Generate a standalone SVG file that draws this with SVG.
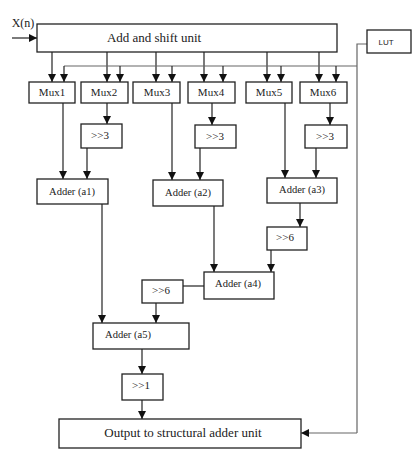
<svg xmlns="http://www.w3.org/2000/svg" width="418" height="455" viewBox="0 0 418 455">
<style>
rect{fill:#fff;stroke:#222;stroke-width:1.3}
text{font-family:"Liberation Serif","Times New Roman",serif;font-size:10.5px;fill:#222;text-anchor:middle}
.m{font-size:11px}
.s{font-size:11px}
.c line,.c polyline{stroke:#222;stroke-width:1.2;fill:none}
.c .g{stroke:#666}
</style>
<defs>
<marker id="ah" viewBox="0 0 10 10" refX="10" refY="5" markerWidth="8" markerHeight="8" markerUnits="userSpaceOnUse" orient="auto"><path d="M0,0L10,5L0,10z" fill="#111"/></marker>
</defs>
<rect width="418" height="455" style="stroke:none;fill:#fff"/>
<g class="c">
<line x1="12" y1="38" x2="37" y2="38" marker-end="url(#ah)"/>
<line x1="52" y1="52" x2="52" y2="82" marker-end="url(#ah)"/>
<line x1="107" y1="52" x2="107" y2="82" marker-end="url(#ah)"/>
<line x1="156" y1="52" x2="156" y2="82" marker-end="url(#ah)"/>
<line x1="204" y1="52" x2="204" y2="82" marker-end="url(#ah)"/>
<line x1="267" y1="52" x2="267" y2="82" marker-end="url(#ah)"/>
<line x1="319" y1="52" x2="319" y2="82" marker-end="url(#ah)"/>
<polyline class="g" points="367,44 357,44 357,433"/>
<line class="g" x1="64" y1="66" x2="357" y2="66"/>
<line x1="64" y1="66" x2="64" y2="82" marker-end="url(#ah)"/>
<line x1="120" y1="66" x2="120" y2="82" marker-end="url(#ah)"/>
<line x1="172" y1="66" x2="172" y2="82" marker-end="url(#ah)"/>
<line x1="223" y1="66" x2="223" y2="82" marker-end="url(#ah)"/>
<line x1="281" y1="66" x2="281" y2="82" marker-end="url(#ah)"/>
<line x1="336" y1="66" x2="336" y2="82" marker-end="url(#ah)"/>
<line class="g" x1="357" y1="433" x2="301" y2="433" marker-end="url(#ah)"/>
<line x1="63" y1="103" x2="63" y2="179" marker-end="url(#ah)"/>
<line x1="107" y1="103" x2="107" y2="124" marker-end="url(#ah)"/>
<line x1="87" y1="148" x2="87" y2="179" marker-end="url(#ah)"/>
<line x1="172" y1="103" x2="172" y2="180" marker-end="url(#ah)"/>
<line x1="212" y1="103" x2="212" y2="125" marker-end="url(#ah)"/>
<line x1="200" y1="148" x2="200" y2="180" marker-end="url(#ah)"/>
<line x1="285" y1="103" x2="285" y2="178" marker-end="url(#ah)"/>
<line x1="330" y1="103" x2="330" y2="125" marker-end="url(#ah)"/>
<line x1="316" y1="148" x2="316" y2="178" marker-end="url(#ah)"/>
<line x1="300" y1="203" x2="300" y2="227" marker-end="url(#ah)"/>
<line x1="214" y1="206" x2="214" y2="272" marker-end="url(#ah)"/>
<line x1="271" y1="250" x2="271" y2="272" marker-end="url(#ah)"/>
<line x1="204" y1="286" x2="183" y2="286"/>
<line x1="102" y1="204" x2="102" y2="323" marker-end="url(#ah)"/>
<line x1="156" y1="303" x2="156" y2="323" marker-end="url(#ah)"/>
<line x1="142" y1="349" x2="142" y2="374" marker-end="url(#ah)"/>
<line x1="142" y1="400" x2="142" y2="419" marker-end="url(#ah)"/>
</g>
<text x="23" y="27" style="font-size:12px">X(n)</text>
<g id="addshift"><rect x="37" y="24" width="300" height="28"/><text x="154" y="42" style="font-size:13px">Add and shift unit</text></g>
<g id="lut"><rect x="367" y="30" width="44" height="23"/><text x="386" y="45" style="font-family:'Liberation Sans',Arial,sans-serif;font-size:8px">LUT</text></g>
<g id="mux1"><rect x="29" y="82" width="46" height="21"/><text class="m" x="52" y="96">Mux1</text></g>
<g id="mux2"><rect x="81" y="82" width="47" height="21"/><text class="m" x="104" y="96">Mux2</text></g>
<g id="mux3"><rect x="133" y="82" width="47" height="21"/><text class="m" x="157" y="96">Mux3</text></g>
<g id="mux4"><rect x="188" y="82" width="47" height="21"/><text class="m" x="211" y="96">Mux4</text></g>
<g id="mux5"><rect x="246" y="82" width="46" height="21"/><text class="m" x="269" y="96">Mux5</text></g>
<g id="mux6"><rect x="300" y="82" width="47" height="21"/><text class="m" x="323" y="96">Mux6</text></g>
<g id="sh3a"><rect x="81" y="124" width="41" height="24"/><text class="s" x="100" y="139">&gt;&gt;3</text></g>
<g id="sh3b"><rect x="195" y="125" width="41" height="23"/><text class="s" x="215" y="140">&gt;&gt;3</text></g>
<g id="sh3c"><rect x="305" y="125" width="42" height="23"/><text class="s" x="325" y="140">&gt;&gt;3</text></g>
<g id="a1"><rect x="37" y="179" width="71" height="25"/><text x="72" y="195">Adder (a1)</text></g>
<g id="a2"><rect x="153" y="180" width="70" height="26"/><text x="188" y="196">Adder (a2)</text></g>
<g id="a3"><rect x="267" y="178" width="70" height="25"/><text x="302" y="193">Adder (a3)</text></g>
<g id="sh6a"><rect x="267" y="227" width="40" height="23"/><text class="s" x="285" y="241">&gt;&gt;6</text></g>
<g id="a4"><rect x="204" y="272" width="70" height="27"/><text x="238" y="287">Adder (a4)</text></g>
<g id="sh6b"><rect x="142" y="280" width="41" height="23"/><text class="s" x="161" y="294">&gt;&gt;6</text></g>
<g id="a5"><rect x="93" y="323" width="96" height="26"/><text x="128" y="338">Adder (a5)</text></g>
<g id="sh1"><rect x="122" y="374" width="41" height="26"/><text class="s" x="141" y="389">&gt;&gt;1</text></g>
<g id="out"><rect x="59" y="419" width="242" height="29"/><text x="183" y="437" style="font-size:13px">Output to structural adder unit</text></g>
</svg>
